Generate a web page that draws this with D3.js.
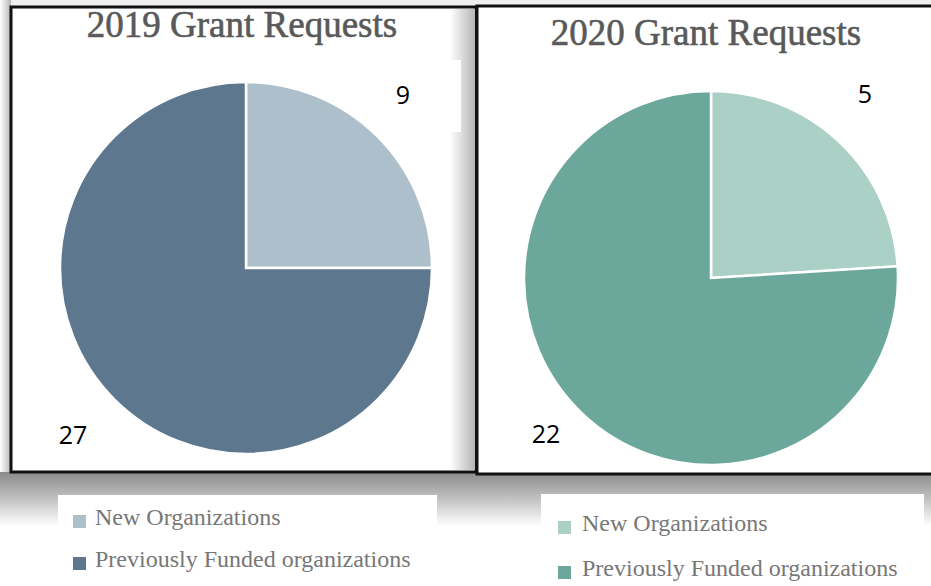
<!DOCTYPE html>
<html>
<head>
<meta charset="utf-8">
<script src="https://cdn.jsdelivr.net/npm/d3@7"></script>
<style>
  body { margin: 0; background: #fff; }
</style>
</head>
<body>
<div id="chart"></div>
<script>
// data
const categories = ["New Organizations", "Previously Funded organizations"];
const counts2019 = [9, 27];
const counts2020 = [5, 22];
// slice shares as drawn (percent)
const shares2019 = [25, 75];
const shares2020 = [24, 76];
const titles = ["2019 Grant Requests", "2020 Grant Requests"];
const colors2019 = ["#aebfcc", "#5c778e"];
const colors2020 = ["#abd0c6", "#6ba79b"];

const width = 931, height = 586;

const svg = d3.select("#chart").append("svg")
  .attr("width", width)
  .attr("height", height);

const defs = svg.append("defs");
const gDown = defs.append("linearGradient").attr("id", "shadowDown")
  .attr("x1", 0).attr("y1", 0).attr("x2", 0).attr("y2", 1);
gDown.append("stop").attr("offset", "0%").attr("stop-color", "#8a8a8a");
gDown.append("stop").attr("offset", "50%").attr("stop-color", "#c2c2c2");
gDown.append("stop").attr("offset", "100%").attr("stop-color", "#fff");

const gLeft = defs.append("linearGradient").attr("id", "shadowLeft")
  .attr("x1", 0).attr("y1", 0).attr("x2", 1).attr("y2", 0);
gLeft.append("stop").attr("offset", "0%").attr("stop-color", "#fff");
gLeft.append("stop").attr("offset", "100%").attr("stop-color", "#b5b5b5");

// background shadows
svg.append("rect").attr("x", 0).attr("y", 0).attr("width", width).attr("height", 6)
  .attr("fill", "#efefef");
svg.append("rect").attr("x", 0).attr("y", 0).attr("width", 11).attr("height", 520)
  .attr("fill", "url(#shadowLeft)");
svg.append("rect").attr("x", 0).attr("y", 472).attr("width", width).attr("height", 54)
  .attr("fill", "url(#shadowDown)");

// panel boxes
svg.append("rect").attr("x", 11).attr("y", 7).attr("width", 465).attr("height", 465)
  .attr("fill", "#fff").attr("stroke", "#111").attr("stroke-width", 3);
svg.append("rect").attr("x", 477).attr("y", 6).attr("width", 470).attr("height", 468)
  .attr("fill", "#fff").attr("stroke", "#111").attr("stroke-width", 3);

// inner shadow cast on the right side of the 2019 panel
svg.append("rect").attr("x", 450).attr("y", 9).attr("width", 25).attr("height", 461)
  .attr("fill", "url(#shadowLeft)");
svg.append("rect").attr("x", 380).attr("y", 60).attr("width", 81).attr("height", 72)
  .attr("fill", "#fff");

const panels = [
  { title: titles[0], shares: shares2019, counts: counts2019, colors: colors2019,
    cx: 246, cy: 268, r: 186, tx: 242, ty: 37,
    labels: [[403, 97], [73, 437]],
    legend: { x: 58, y: 495, w: 379, sq: 73, tx: 95, rows: [521, 563] } },
  { title: titles[1], shares: shares2020, counts: counts2020, colors: colors2020,
    cx: 711, cy: 278, r: 187, tx: 706, ty: 45,
    labels: [[865, 96], [546, 436]],
    legend: { x: 541, y: 494, w: 383, sq: 558, tx: 582, rows: [527, 572] } }
];

const pie = d3.pie().sort(null).value(d => d);

panels.forEach(p => {
  const color = d3.scaleOrdinal().domain(categories).range(p.colors);
  const arc = d3.arc().innerRadius(0).outerRadius(p.r);

  svg.append("text")
    .attr("x", p.tx).attr("y", p.ty)
    .attr("text-anchor", "middle")
    .attr("font-family", "'Liberation Serif', 'DejaVu Serif', serif")
    .attr("font-size", 37)
    .attr("fill", "#595959")
    .attr("stroke", "#595959")
    .attr("stroke-width", 0.6)
    .text(p.title);

  const g = svg.append("g").attr("transform", `translate(${p.cx},${p.cy})`);
  g.selectAll("path")
    .data(pie(p.shares))
    .join("path")
    .attr("d", arc)
    .attr("fill", (d, i) => color(categories[i]))
    .attr("stroke", "#fff")
    .attr("stroke-width", 2.5);

  svg.selectAll(null)
    .data(p.counts)
    .join("text")
    .attr("x", (d, i) => p.labels[i][0])
    .attr("y", (d, i) => p.labels[i][1])
    .attr("text-anchor", "middle")
    .attr("dominant-baseline", "middle")
    .attr("font-family", "'Open Sans', 'Noto Sans', sans-serif")
    .attr("font-size", 25)
    .attr("fill", "#000")
    .text(d => d);

  // legend
  const L = p.legend;
  svg.append("rect").attr("x", L.x).attr("y", L.y).attr("width", L.w).attr("height", height - L.y)
    .attr("fill", "#fff");
  const items = svg.selectAll(null)
    .data(categories)
    .join("g")
    .attr("transform", (d, i) => `translate(0,${L.rows[i]})`);
  items.append("rect")
    .attr("x", L.sq).attr("y", -6)
    .attr("width", 13).attr("height", 13)
    .attr("fill", d => color(d));
  items.append("text")
    .attr("x", L.tx).attr("y", 4)
    .attr("font-family", "'Liberation Serif', 'DejaVu Serif', serif")
    .attr("font-size", 24)
    .attr("fill", "#777")
    .text(d => d);
});
</script>
</body>
</html>
